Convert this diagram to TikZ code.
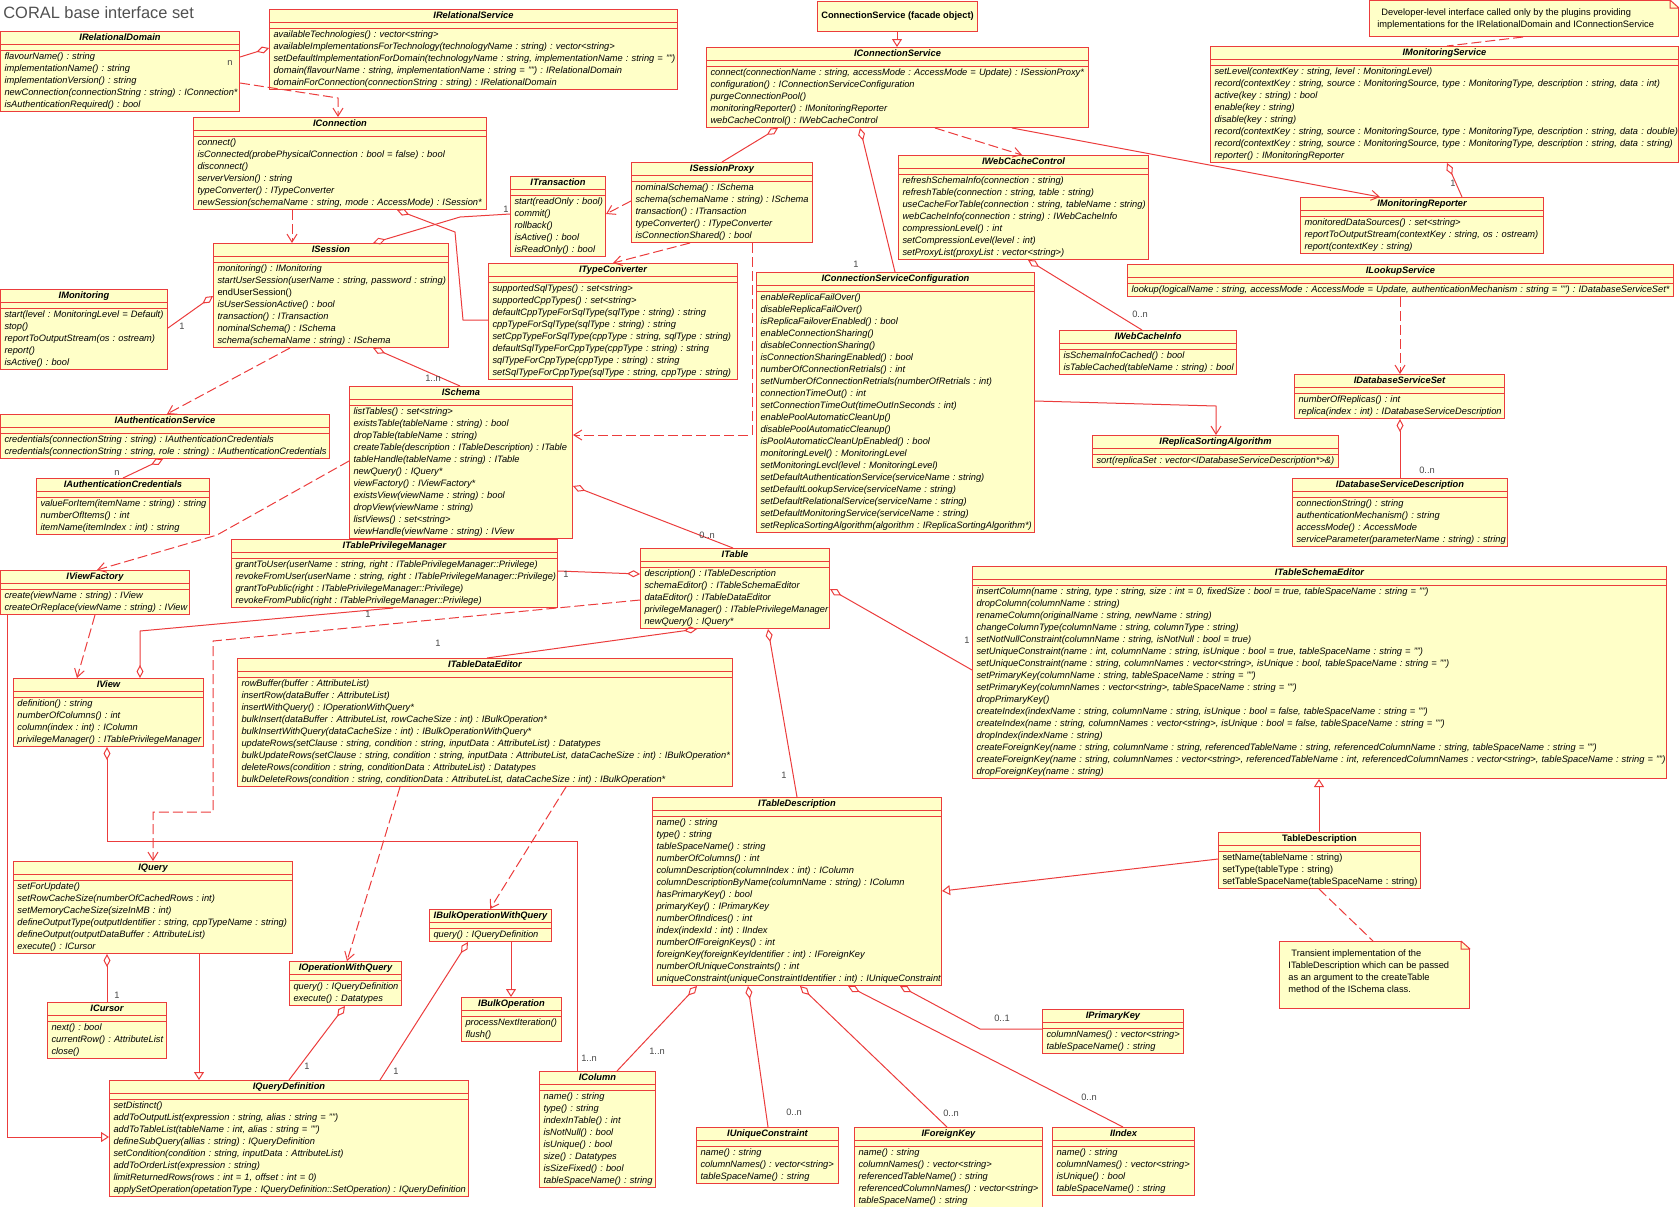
\documentclass[tikz,border=0pt]{standalone}
\usepackage{fontspec}
\setmainfont{Liberation Sans}
\usepackage{xcolor}
\usepackage{tikz}
\usetikzlibrary{arrows.meta,shapes.multipart}

\definecolor{umlred}{RGB}{235,60,60}
\definecolor{umlfill}{RGB}{255,255,200}
\definecolor{umlgray}{RGB}{70,70,70}
\definecolor{titlegray}{RGB}{80,80,80}

\frenchspacing
\newcommand{\umlfont}{\fontsize{4.65}{6}\selectfont\frenchspacing}
\newcommand{\cname}[1]{\strut\hfill\textbf{#1}\hfill\null}
\newcommand{\noattr}{\rule{0pt}{2.5pt}}
\newcommand{\ops}[1]{\begin{tabular}{@{}l@{}}#1\end{tabular}}

\tikzset{
  umlclass/.style={rectangle split, rectangle split parts=3, draw=umlred, fill=umlfill,
    line width=0.5pt, anchor=north west, inner xsep=2pt, inner ysep=0pt,
    font=\umlfont\itshape, text width=#1},
  implclass/.style={umlclass=#1, font=\umlfont},
  notebox/.style={draw=umlred, fill=umlfill, line width=0.5pt, anchor=north west, inner sep=0pt},
  notetext/.style={anchor=north west, inner sep=0pt, font=\umlfont, align=left},
  link/.style={draw=umlred, line width=0.5pt},
  aggr/.style={link, -{Diamond[open,length=6.5pt,width=3.5pt]}},
  dep/.style={link, dash pattern=on 5pt off 2pt, -{Straight Barb[length=4pt,width=5pt]}},
  nav/.style={link, -{Straight Barb[length=4pt,width=5pt]}},
  realize/.style={link, -{Triangle[open,length=4pt,width=5pt]}},
  mult/.style={inner sep=0pt, font=\umlfont, text=umlgray}
}

\begin{document}
\begin{tikzpicture}[x=0.5pt,y=-0.5pt]
  \useasboundingbox (0,0) rectangle (1679,1206);
  \node[anchor=base west, inner sep=0pt, font=\fontsize{8.2}{10}\selectfont, text=titlegray] (title) at (3,18) {CORAL base interface set};

  % top row
  \node[umlclass=115.5pt] (IRelationalDomain) at (0,31) {\cname{IRelationalDomain}\nodepart{two}\noattr\nodepart{three}\ops{flavourName() : string\\implementationName() : string\\implementationVersion() : string\\newConnection(connectionString : string) : IConnection*\\isAuthenticationRequired() : bool}};
  \node[umlclass=200pt] (IRelationalService) at (269,9) {\cname{IRelationalService}\nodepart{two}\noattr\nodepart{three}\ops{availableTechnologies() : vector<string>\\availableImplementationsForTechnology(technologyName : string) : vector<string>\\setDefaultImplementationForDomain(technologyName : string, implementationName : string = "")\\domain(flavourName : string, implementationName : string = "") : IRelationalDomain\\domainForConnection(connectionString : string) : IRelationalDomain}};
  \node[notebox, minimum width=80pt, minimum height=15pt, font=\umlfont\bfseries] (facade) at (817,1) {ConnectionService (facade object)};
  \node[notebox, minimum width=154.5pt, minimum height=18pt] (note1) at (1369,0) {};
  \fill[white] ([xshift=-4.5pt]note1.north east) -- (note1.north east) -- ([yshift=-4pt]note1.north east) -- cycle;
  \draw[link] ([xshift=-4.5pt]note1.north east) -- ([yshift=-4pt]note1.north east) ([xshift=-4.5pt]note1.north east) |- ([yshift=-4pt]note1.north east);
  \node[notetext] (note1text) at ([shift={(4pt,-3.3pt)}]note1.north west) {\strut\hspace{2pt}Developer-level interface called only by the plugins providing\\implementations for the IRelationalDomain and IConnectionService};
  \node[umlclass=187pt] (IConnectionService) at (706,47) {\cname{IConnectionService}\nodepart{two}\noattr\nodepart{three}\ops{connect(connectionName : string, accessMode : AccessMode = Update) : ISessionProxy*\\configuration() : IConnectionServiceConfiguration\\purgeConnectionPool()\\monitoringReporter() : IMonitoringReporter\\webCacheControl() : IWebCacheControl}};
  \node[umlclass=230pt] (IMonitoringService) at (1210,46) {\cname{IMonitoringService}\nodepart{two}\noattr\nodepart{three}\ops{setLevel(contextKey : string, level : MonitoringLevel)\\record(contextKey : string, source : MonitoringSource, type : MonitoringType, description : string, data : int)\\active(key : string) : bool\\enable(key : string)\\disable(key : string)\\record(contextKey : string, source : MonitoringSource, type : MonitoringType, description : string, data : double)\\record(contextKey : string, source : MonitoringSource, type : MonitoringType, description : string, data : string)\\reporter() : IMonitoringReporter}};

  % session level
  \node[umlclass=142.5pt] (IConnection) at (193,117) {\cname{IConnection}\nodepart{two}\noattr\nodepart{three}\ops{connect()\\isConnected(probePhysicalConnection : bool = false) : bool\\disconnect()\\serverVersion() : string\\typeConverter() : ITypeConverter\\newSession(schemaName : string, mode : AccessMode) : ISession*}};
  \node[umlclass=113.5pt] (ISession) at (213,243) {\cname{ISession}\nodepart{two}\noattr\nodepart{three}\ops{monitoring() : IMonitoring\\startUserSession(userName : string, password : string)\\\upshape endUserSession()\\isUserSessionActive() : bool\\transaction() : ITransaction\\nominalSchema() : ISchema\\schema(schemaName : string) : ISchema}};
  \node[umlclass=79.5pt] (IMonitoring) at (0,289) {\cname{IMonitoring}\nodepart{two}\noattr\nodepart{three}\ops{start(level : MonitoringLevel = Default)\\stop()\\reportToOutputStream(os : ostream)\\report()\\isActive() : bool}};
  \node[umlclass=43.5pt] (ITransaction) at (510,176) {\cname{ITransaction}\nodepart{two}\noattr\nodepart{three}\ops{start(readOnly : bool)\\commit()\\rollback()\\isActive() : bool\\isReadOnly() : bool}};
  \node[umlclass=86.5pt] (ISessionProxy) at (631,162) {\cname{ISessionProxy}\nodepart{two}\noattr\nodepart{three}\ops{nominalSchema() : ISchema\\schema(schemaName : string) : ISchema\\transaction() : ITransaction\\typeConverter() : ITypeConverter\\isConnectionShared() : bool}};
  \node[umlclass=120.5pt] (ITypeConverter) at (488,263) {\cname{ITypeConverter}\nodepart{two}\noattr\nodepart{three}\ops{supportedSqlTypes() : set<string>\\supportedCppTypes() : set<string>\\defaultCppTypeForSqlType(sqlType : string) : string\\cppTypeForSqlType(sqlType : string) : string\\setCppTypeForSqlType(cppType : string, sqlType : string)\\defaultSqlTypeForCppType(cppType : string) : string\\sqlTypeForCppType(cppType : string) : string\\setSqlTypeForCppType(sqlType : string, cppType : string)}};
  \node[umlclass=121pt] (IWebCacheControl) at (898,155) {\cname{IWebCacheControl}\nodepart{two}\noattr\nodepart{three}\ops{refreshSchemaInfo(connection : string)\\refreshTable(connection : string, table : string)\\useCacheForTable(connection : string, tableName : string)\\webCacheInfo(connection : string) : IWebCacheInfo\\compressionLevel() : int\\setCompressionLevel(level : int)\\setProxyList(proxyList : vector<string>)}};
  \node[umlclass=84.5pt] (IWebCacheInfo) at (1059,330) {\cname{IWebCacheInfo}\nodepart{two}\noattr\nodepart{three}\ops{isSchemaInfoCached() : bool\\isTableCached(tableName : string) : bool}};
  \node[umlclass=135pt] (IConnectionServiceConfiguration) at (756,272) {\cname{IConnectionServiceConfiguration}\nodepart{two}\noattr\nodepart{three}\ops{enableReplicaFailOver()\\disableReplicaFailOver()\\isReplicaFailoverEnabled() : bool\\enableConnectionSharing()\\disableConnectionSharing()\\isConnectionSharingEnabled() : bool\\numberOfConnectionRetrials() : int\\setNumberOfConnectionRetrials(numberOfRetrials : int)\\connectionTimeOut() : int\\setConnectionTimeOut(timeOutInSeconds : int)\\enablePoolAutomaticCleanUp()\\disablePoolAutomaticCleanup()\\isPoolAutomaticCleanUpEnabled() : bool\\monitoringLevel() : MonitoringLevel\\setMonitoringLevcl(level : MonitoringLevel)\\setDefaultAuthenticationService(serviceName : string)\\setDefaultLookupService(serviceName : string)\\setDefaultRelationalService(serviceName : string)\\setDefaultMonitoringService(serviceName : string)\\setReplicaSortingAlgorithm(algorithm : IReplicaSortingAlgorithm*)}};
  \node[umlclass=117.5pt] (IMonitoringReporter) at (1300,197) {\cname{IMonitoringReporter}\nodepart{two}\noattr\nodepart{three}\ops{monitoredDataSources() : set<string>\\reportToOutputStream(contextKey : string, os : ostream)\\report(contextKey : string)}};
  \node[umlclass=269pt] (ILookupService) at (1127,264) {\cname{ILookupService}\nodepart{two}\noattr\nodepart{three}\ops{lookup(logicalName : string, accessMode : AccessMode = Update, authenticationMechanism : string = "") : IDatabaseServiceSet*}};
  \node[umlclass=101pt] (IDatabaseServiceSet) at (1294,374) {\cname{IDatabaseServiceSet}\nodepart{two}\noattr\nodepart{three}\ops{numberOfReplicas() : int\\replica(index : int) : IDatabaseServiceDescription}};
  \node[umlclass=119pt] (IReplicaSortingAlgorithm) at (1092,435) {\cname{IReplicaSortingAlgorithm}\nodepart{two}\noattr\nodepart{three}\ops{sort(replicaSet : vector<IDatabaseServiceDescription*>\&)}};
  \node[umlclass=103.5pt] (IDatabaseServiceDescription) at (1292,478) {\cname{IDatabaseServiceDescription}\nodepart{two}\noattr\nodepart{three}\ops{connectionString() : string\\authenticationMechanism() : string\\accessMode() : AccessMode\\serviceParameter(parameterName : string) : string}};

  % schema level
  \node[umlclass=160.5pt] (IAuthenticationService) at (0,414) {\cname{IAuthenticationService}\nodepart{two}\noattr\nodepart{three}\ops{credentials(connectionString : string) : IAuthenticationCredentials\\credentials(connectionString : string, role : string) : IAuthenticationCredentials}};
  \node[umlclass=82.5pt] (IAuthenticationCredentials) at (36,478) {\cname{IAuthenticationCredentials}\nodepart{two}\noattr\nodepart{three}\ops{valueForItem(itemName : string) : string\\numberOfItems() : int\\itemName(itemIndex : int) : string}};
  \node[umlclass=107.5pt] (ISchema) at (349,386) {\cname{ISchema}\nodepart{two}\noattr\nodepart{three}\ops{listTables() : set<string>\\existsTable(tableName : string) : bool\\dropTable(tableName : string)\\createTable(description : ITableDescription) : ITable\\tableHandle(tableName : string) : ITable\\newQuery() : IQuery*\\viewFactory() : IViewFactory*\\existsView(viewName : string) : bool\\dropView(viewName : string)\\listViews() : set<string>\\viewHandle(viewName : string) : IView}};
  \node[umlclass=90.5pt] (IViewFactory) at (0,570) {\cname{IViewFactory}\nodepart{two}\noattr\nodepart{three}\ops{create(viewName : string) : IView\\createOrReplace(viewName : string) : IView}};
  \node[umlclass=159pt] (ITablePrivilegeManager) at (231,539) {\cname{ITablePrivilegeManager}\nodepart{two}\noattr\nodepart{three}\ops{grantToUser(userName : string, right : ITablePrivilegeManager::Privilege)\\revokeFromUser(userName : string, right : ITablePrivilegeManager::Privilege)\\grantToPublic(right : ITablePrivilegeManager::Privilege)\\revokeFromPublic(right : ITablePrivilegeManager::Privilege)}};
  \node[umlclass=90.5pt] (ITable) at (640,548) {\cname{ITable}\nodepart{two}\noattr\nodepart{three}\ops{description() : ITableDescription\\schemaEditor() : ITableSchemaEditor\\dataEditor() : ITableDataEditor\\privilegeManager() : ITablePrivilegeManager\\newQuery() : IQuery*}};
  \node[umlclass=343pt] (ITableSchemaEditor) at (972,566) {\cname{ITableSchemaEditor}\nodepart{two}\noattr\nodepart{three}\ops{insertColumn(name : string, type : string, size : int = 0, fixedSize : bool = true, tableSpaceName : string = "")\\dropColumn(columnName : string)\\renameColumn(originalName : string, newName : string)\\changeColumnType(columnName : string, columnType : string)\\setNotNullConstraint(columnName : string, isNotNull : bool = true)\\setUniqueConstraint(name : int, columnName : string, isUnique : bool = true, tableSpaceName : string = "")\\setUniqueConstraint(name : string, columnNames : vector<string>, isUnique : bool, tableSpaceName : string = "")\\setPrimaryKey(columnName : string, tableSpaceName : string = "")\\setPrimaryKey(columnNames : vector<string>, tableSpaceName : string = "")\\dropPrimaryKey()\\createIndex(indexName : string, columnName : string, isUnique : bool = false, tableSpaceName : string = "")\\createIndex(name : string, columnNames : vector<string>, isUnique : bool = false, tableSpaceName : string = "")\\dropIndex(indexName : string)\\createForeignKey(name : string, columnName : string, referencedTableName : string, referencedColumnName : string, tableSpaceName : string = "")\\createForeignKey(name : string, columnNames : vector<string>, referencedTableName : int, referencedColumnNames : vector<string>, tableSpaceName : string = "")\\dropForeignKey(name : string)}};
  \node[umlclass=91pt] (IView) at (13,678) {\cname{IView}\nodepart{two}\noattr\nodepart{three}\ops{definition() : string\\numberOfColumns() : int\\column(index : int) : IColumn\\privilegeManager() : ITablePrivilegeManager}};
  \node[umlclass=243.5pt] (ITableDataEditor) at (237,658) {\cname{ITableDataEditor}\nodepart{two}\noattr\nodepart{three}\ops{rowBuffer(buffer : AttributeList)\\insertRow(dataBuffer : AttributeList)\\insertWithQuery() : IOperationWithQuery*\\bulkInsert(dataBuffer : AttributeList, rowCacheSize : int) : IBulkOperation*\\bulkInsertWithQuery(dataCacheSize : int) : IBulkOperationWithQuery*\\updateRows(setClause : string, condition : string, inputData : AttributeList) : Datatypes\\bulkUpdateRows(setClause : string, condition : string, inputData : AttributeList, dataCacheSize : int) : IBulkOperation*\\deleteRows(condition : string, conditionData : AttributeList) : Datatypes\\bulkDeleteRows(condition : string, conditionData : AttributeList, dataCacheSize : int) : IBulkOperation*}};

  % query and table description level
  \node[umlclass=140.5pt] (ITableDescription) at (652,797) {\cname{ITableDescription}\nodepart{two}\noattr\nodepart{three}\ops{name() : string\\type() : string\\tableSpaceName() : string\\numberOfColumns() : int\\columnDescription(columnIndex : int) : IColumn\\columnDescriptionByName(columnName : string) : IColumn\\hasPrimaryKey() : bool\\primaryKey() : IPrimaryKey\\numberOfIndices() : int\\index(indexId : int) : IIndex\\numberOfForeignKeys() : int\\foreignKey(foreignKeyIdentifier : int) : IForeignKey\\numberOfUniqueConstraints() : int\\uniqueConstraint(uniqueConstraintIdentifier : int) : IUniqueConstraint}};
  \node[implclass=97pt] (TableDescription) at (1218,832) {\cname{TableDescription}\nodepart{two}\noattr\nodepart{three}\ops{setName(tableName : string)\\setType(tableType : string)\\setTableSpaceName(tableSpaceName : string)}};
  \node[notebox, minimum width=95pt, minimum height=33.5pt] (note2) at (1279,941) {};
  \fill[white] ([xshift=-4.5pt]note2.north east) -- (note2.north east) -- ([yshift=-4pt]note2.north east) -- cycle;
  \draw[link] ([xshift=-4.5pt]note2.north east) -- ([yshift=-4pt]note2.north east) ([xshift=-4.5pt]note2.north east) |- ([yshift=-4pt]note2.north east);
  \node[notetext] (note2text) at ([shift={(4.5pt,-3.15pt)}]note2.north west) {\strut\hspace{1.5pt}Transient implementation of the\\ITableDescription which can be passed\\as an argument to the createTable\\method of the ISchema class.};
  \node[umlclass=135.5pt] (IQuery) at (13,861) {\cname{IQuery}\nodepart{two}\noattr\nodepart{three}\ops{setForUpdate()\\setRowCacheSize(numberOfCachedRows : int)\\setMemoryCacheSize(sizeInMB : int)\\defineOutputType(outputIdentifier : string, cppTypeName : string)\\defineOutput(outputDataBuffer : AttributeList)\\execute() : ICursor}};
  \node[umlclass=57pt] (IBulkOperationWithQuery) at (429,909) {\cname{IBulkOperationWithQuery}\nodepart{two}\noattr\nodepart{three}\ops{query() : IQueryDefinition}};
  \node[umlclass=52pt] (IOperationWithQuery) at (289,961) {\cname{IOperationWithQuery}\nodepart{two}\noattr\nodepart{three}\ops{query() : IQueryDefinition\\execute() : Datatypes}};
  \node[umlclass=55.5pt] (ICursor) at (47,1002) {\cname{ICursor}\nodepart{two}\noattr\nodepart{three}\ops{next() : bool\\currentRow() : AttributeList\\close()}};
  \node[umlclass=46pt] (IBulkOperation) at (461,997) {\cname{IBulkOperation}\nodepart{two}\noattr\nodepart{three}\ops{processNextIteration()\\flush()}};
  \node[umlclass=66.5pt] (IPrimaryKey) at (1042,1009) {\cname{IPrimaryKey}\nodepart{two}\noattr\nodepart{three}\ops{columnNames() : vector<string>\\tableSpaceName() : string}};
  \node[umlclass=54pt] (IColumn) at (539,1071) {\cname{IColumn}\nodepart{two}\noattr\nodepart{three}\ops{name() : string\\type() : string\\indexInTable() : int\\isNotNull() : bool\\isUnique() : bool\\size() : Datatypes\\isSizeFixed() : bool\\tableSpaceName() : string}};
  \node[umlclass=175.5pt] (IQueryDefinition) at (109,1080) {\cname{IQueryDefinition}\nodepart{two}\noattr\nodepart{three}\ops{setDistinct()\\addToOutputList(expression : string, alias : string = "")\\addToTableList(tableName : int, alias : string = "")\\defineSubQuery(allias : string) : IQueryDefinition\\setCondition(condition : string, inputData : AttributeList)\\addToOrderList(expression : string)\\limitReturnedRows(rows : int = 1, offset : int = 0)\\applySetOperation(opetationType : IQueryDefinition::SetOperation) : IQueryDefinition}};
  \node[umlclass=67pt] (IUniqueConstraint) at (696,1127) {\cname{IUniqueConstraint}\nodepart{two}\noattr\nodepart{three}\ops{name() : string\\columnNames() : vector<string>\\tableSpaceName() : string}};
  \node[umlclass=90pt] (IForeignKey) at (854,1127) {\cname{IForeignKey}\nodepart{two}\noattr\nodepart{three}\ops{name() : string\\columnNames() : vector<string>\\referencedTableName() : string\\referencedColumnNames() : vector<string>\\tableSpaceName() : string}};
  \node[umlclass=67pt] (IIndex) at (1052,1127) {\cname{IIndex}\nodepart{two}\noattr\nodepart{three}\ops{name() : string\\columnNames() : vector<string>\\isUnique() : bool\\tableSpaceName() : string}};

  % connectors, top part
  \draw[aggr] (IRelationalDomain.east |- 0,57) -- (IRelationalService.west |- 0,48);
  \draw[dep] (IRelationalDomain.east |- 0,83) -- (338,98) -- (IConnection.north -| 338,0);
  \draw[realize] (facade.south -| 897,0) -- (IConnectionService.north -| 897,0);
  \draw[link, dash pattern=on 5pt off 2pt] (note1.south -| 1523,0) -- (IMonitoringService.north -| 1447,0);
  \draw[dep] (IConnection.south -| 292,0) -- (ISession.north -| 292,0);
  \draw[aggr] (ITransaction.west |- 0,214) -- (460,217) -- (ISession.north -| 373,0);
  \draw[aggr] (ITypeConverter.west |- 0,320) -- (463,320) -- (455,232) -- (IConnection.south -| 397,0);
  \draw[aggr] (IMonitoring.east |- 0,328) -- (ISession.west |- 0,296);
  \draw[dep] (ISessionProxy.west |- 0,201) -- (ITransaction.east |- 0,214);
  \draw[dep] (ISessionProxy.south -| 690,0) -- (ITypeConverter.north -| 613,0);
  \draw[aggr] (ISessionProxy.north -| 722,0) -- (IConnectionService.south -| 778,0);
  \draw[dep] (ISessionProxy.south -| 752,0) -- (752,435) -- (ISchema.east |- 0,435);
  \draw[aggr] (IConnectionServiceConfiguration.north -| 895,0) -- (IConnectionService.south -| 860,0);
  \draw[dep] (IConnectionService.south -| 935,0) -- (IWebCacheControl.north -| 1022,0);
  \draw[nav] (IConnectionService.south -| 1012,0) -- (IMonitoringReporter.north -| 1380,0);
  \draw[aggr] (IWebCacheInfo.north -| 1142,0) -- (IWebCacheControl.south -| 1028,0);
  \draw[nav] (IConnectionServiceConfiguration.east |- 0,401) -- (1216,406) -- (IReplicaSortingAlgorithm.north -| 1216,0);
  \draw[aggr] (IMonitoringReporter.north -| 1462,0) -- (IMonitoringService.south -| 1447,0);
  \draw[dep] (ILookupService.south -| 1400,0) -- (IDatabaseServiceSet.north -| 1400,0);
  \draw[aggr] (IDatabaseServiceDescription.north -| 1400,0) -- (IDatabaseServiceSet.south -| 1400,0);

  % connectors, schema and table
  \draw[dep] (ISession.south -| 290,0) -- (IAuthenticationService.north -| 167,0);
  \draw[aggr] (IAuthenticationCredentials.north -| 123,0) -- (IAuthenticationService.south -| 163,0);
  \draw[aggr] (ISchema.north -| 460,0) -- (ISession.south -| 373,0);
  \draw[dep] (ISchema.west |- 0,461) -- (217,535) -- (IViewFactory.north -| 97,0);
  \draw[dep] (IViewFactory.south -| 95,0) -- (IView.north -| 77,0);
  \draw[aggr] (ITablePrivilegeManager.south -| 393,0) -- (140,631) -- (IView.north -| 140,0);
  \draw[aggr] (ITable.north -| 733,0) -- (ISchema.east |- 0,486);
  \draw[aggr] (ITablePrivilegeManager.east |- 0,571) -- (ITable.west |- 0,574);
  \draw[aggr] (ITableDataEditor.north -| 487,0) -- (ITable.south -| 697,0);
  \draw[aggr] (ITableDescription.north -| 797,0) -- (ITable.south -| 768,0);
  \draw[aggr] (ITableSchemaEditor.west |- 0,670) -- (ITable.east |- 0,589);
  \draw[realize] (TableDescription.north -| 1319,0) -- (ITableSchemaEditor.south -| 1319,0);
  \draw[dep] (ITable.west |- 0,600) -- (213,641) -- (213,812) -- (153,812) -- (IQuery.north -| 153,0);
  \draw[realize] (IViewFactory.south -| 7,0) -- (7,1137) -- (IQueryDefinition.west |- 0,1137);
  \draw[aggr] (IColumn.north -| 577,0) -- (577,841) -- (107,841) -- (IView.south -| 107,0);

  % connectors, bottom part
  \draw[dep] (ITableDataEditor.south -| 566,0) -- (IBulkOperationWithQuery.north -| 490,0);
  \draw[dep] (ITableDataEditor.south -| 400,0) -- (IOperationWithQuery.north -| 347,0);
  \draw[aggr] (ICursor.north -| 107,0) -- (IQuery.south -| 107,0);
  \draw[realize] (IQuery.south -| 199,0) -- (IQueryDefinition.north -| 199,0);
  \draw[aggr] (IQueryDefinition.north -| 289,0) -- (IOperationWithQuery.south -| 345,0);
  \draw[aggr] (IQueryDefinition.north -| 380,0) -- (IBulkOperationWithQuery.south -| 468,0);
  \draw[realize] (IBulkOperationWithQuery.south -| 511,0) -- (IBulkOperation.north -| 511,0);
  \draw[aggr] (IColumn.north -| 617,0) -- (ITableDescription.south -| 697,0);
  \draw[aggr] (IUniqueConstraint.north -| 768,0) -- (ITableDescription.south -| 748,0);
  \draw[aggr] (IForeignKey.north -| 947,0) -- (ITableDescription.south -| 800,0);
  \draw[aggr] (IIndex.north -| 1123,0) -- (ITableDescription.south -| 848,0);
  \draw[aggr] (IPrimaryKey.west |- 0,1029) -- (980,1029) -- (ITableDescription.south -| 900,0);
  \draw[realize] (TableDescription.west |- 0,859) -- (ITableDescription.east |- 0,891);
  \draw[link, dash pattern=on 5pt off 2pt] (TableDescription.south -| 1319,0) -- (note2.north -| 1373,0);

  % multiplicities
  \node[mult] (mDomain) at (230,63) {n};
  \node[mult] (mTransaction) at (506,209) {1};
  \node[mult] (mMonitoring) at (182,326) {1};
  \node[mult] (mSchema) at (433,378) {1..n};
  \node[mult] (mConfig) at (856,264) {1};
  \node[mult] (mWebInfo) at (1140,314) {0..n};
  \node[mult] (mReporter) at (1453,183) {1};
  \node[mult] (mDbDescr) at (1427,470) {0..n};
  \node[mult] (mCredentials) at (117,473) {n};
  \node[mult] (mPrivView) at (368,614) {1};
  \node[mult] (mTable) at (707,535) {0..n};
  \node[mult] (mPrivTable) at (566,574) {1};
  \node[mult] (mDataEditor) at (438,643) {1};
  \node[mult] (mTableDescr) at (784,775) {1};
  \node[mult] (mSchemaEditor) at (967,640) {1};
  \node[mult] (mCursor) at (117,995) {1};
  \node[mult] (mOpQuery) at (307,1066) {1};
  \node[mult] (mBulkQuery) at (396,1071) {1};
  \node[mult] (mColumnView) at (589,1058) {1..n};
  \node[mult] (mColumnDescr) at (657,1051) {1..n};
  \node[mult] (mUnique) at (794,1112) {0..n};
  \node[mult] (mForeign) at (951,1113) {0..n};
  \node[mult] (mIndex) at (1089,1097) {0..n};
  \node[mult] (mPrimary) at (1002,1018) {0..1};
\end{tikzpicture}
\end{document}
